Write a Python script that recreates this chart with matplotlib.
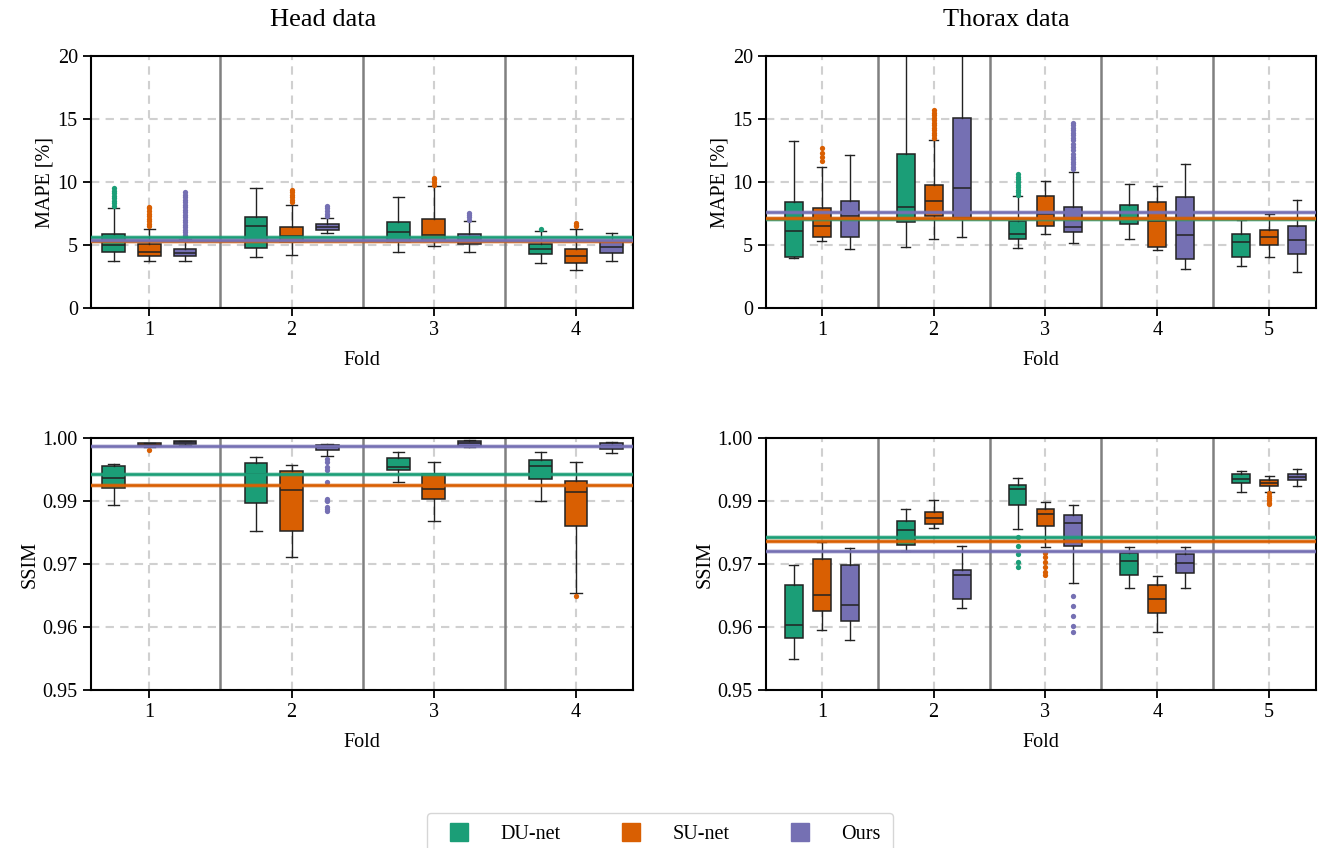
import numpy as np
import matplotlib
matplotlib.use("Agg")
import matplotlib.pyplot as plt
from matplotlib.lines import Line2D
from matplotlib.ticker import FormatStrFormatter

plt.rcParams['font.family'] = 'serif'
plt.rcParams['font.serif'] = ['Liberation Serif', 'DejaVu Serif']

models = ["DU-net", "SU-net", "Ours"]
colors = ["#1b9e77", "#d95f02", "#7570b3"]

# ---- Head MAPE [model][fold] ----
head_mape_q1 = [[4.45, 4.75, 5.25, 4.25], [4.1, 5.25, 5.3, 3.6], [4.1, 6.2, 5.05, 4.35]]
head_mape_med = [[4.97, 6.5, 6.06, 4.65], [4.45, 5.74, 5.78, 4.12], [4.4, 6.45, 5.4, 4.82]]
head_mape_q3 = [[5.9, 7.25, 6.85, 5.05], [5.05, 6.43, 7.1, 4.65], [4.68, 6.64, 5.84, 5.3]]
head_mape_lo = [[3.75, 4.02, 4.46, 3.56], [3.75, 4.2, 4.9, 3.05], [3.75, 5.95, 4.45, 3.75]]
head_mape_hi = [[7.9, 9.5, 8.84, 6.15], [6.3, 8.2, 9.72, 6.3], [5.47, 7.17, 6.88, 5.98]]
head_mape_fliers = [
    [[8.1, 8.3, 8.5, 8.7, 8.9, 9.1, 9.3, 9.5], [], [], [6.3]],
    [[6.5, 6.7, 6.9, 7.1, 7.3, 7.5, 7.7, 7.9, 8.0], [8.4, 8.6, 8.8, 9.0, 9.2, 9.4],
     [9.8, 10.0, 10.2, 10.35], [6.5, 6.6, 6.75]],
    [[5.6, 5.8, 6.0, 6.2, 6.4, 6.6, 6.8, 7.0, 7.2, 7.4, 7.6, 7.8, 8.0, 8.2, 8.4, 8.6, 8.8, 9.0, 9.2],
     [7.3, 7.5, 7.7, 7.9, 8.1], [7.0, 7.2, 7.4, 7.55], []],
]
head_mape_mean = [5.6, 5.28, 5.4]

# ---- Thorax MAPE ----
thorax_mape_q1 = [[4.06, 6.85, 5.47, 6.64, 4.06], [5.6, 7.28, 6.5, 4.82, 4.98], [5.6, 7.12, 6.07, 3.85, 4.25]]
thorax_mape_med = [[6.14, 8.02, 5.9, 7.12, 5.26], [6.52, 8.5, 7.44, 6.9, 5.6], [7.27, 9.5, 6.45, 5.78, 5.37]]
thorax_mape_q3 = [[8.4, 12.25, 6.9, 8.2, 5.84], [7.93, 9.75, 8.9, 8.43, 6.16], [8.47, 15.06, 8.05, 8.84, 6.52]]
thorax_mape_lo = [[3.98, 4.83, 4.75, 5.45, 3.37], [5.28, 5.46, 5.85, 4.58, 4.05], [4.67, 5.65, 5.15, 3.1, 2.82]]
thorax_mape_hi = [[13.28, 22.0, 8.92, 9.83, 6.96], [11.2, 13.33, 10.1, 9.67, 7.49], [12.18, 22.0, 10.82, 11.45, 8.58]]
thorax_mape_fliers = [
    [[], [], [9.0, 9.2, 9.4, 9.6, 9.8, 10.0, 10.2, 10.4, 10.6], [], []],
    [[11.7, 12.0, 12.3, 12.7], [13.5, 13.7, 13.9, 14.1, 14.3, 14.5, 14.7, 14.9, 15.1, 15.3, 15.5, 15.7], [], [], []],
    [[], [], [11.0, 11.2, 11.4, 11.6, 11.8, 12.0, 12.2, 12.5, 12.8, 13.0, 13.3, 13.5, 13.7, 13.9, 14.1, 14.3, 14.5, 14.7], [], []],
]
thorax_mape_mean = [7.04, 7.17, 7.6]

# ---- Head SSIM ----
head_ssim_q1 = [[0.9900, 0.98704, 0.99365, 0.9918], [0.99835, 0.98161, 0.98783, 0.98254], [0.99888, 0.99762, 0.99841, 0.99782]]
head_ssim_med = [[0.99213, 0.99292, 0.99425, 0.99444], [0.99868, 0.98968, 0.98988, 0.98929], [0.99921, 0.99815, 0.99894, 0.99848]]
head_ssim_q3 = [[0.99451, 0.99504, 0.99597, 0.99557], [0.99894, 0.99352, 0.99286, 0.99147], [0.9994, 0.99861, 0.99934, 0.99901]]
head_ssim_lo = [[0.98671, 0.98148, 0.99134, 0.98757], [0.99828, 0.97646, 0.9836, 0.96925], [0.99868, 0.9965, 0.99828, 0.99696]]
head_ssim_hi = [[0.99478, 0.99623, 0.99716, 0.99716], [0.99901, 0.99464, 0.99517, 0.99517], [0.99947, 0.99874, 0.9996, 0.99914]]
head_ssim_fliers = [
    [[], [], [], []],
    [[0.99762], [], [], [0.96858]],
    [[], [0.99583, 0.99517, 0.99431, 0.99365, 0.9912, 0.9879, 0.98743, 0.98638, 0.98591, 0.98545], [], []],
]
head_ssim_mean = [0.99286, 0.99074, 0.99841]

# ---- Thorax SSIM ----
thorax_ssim_q1 = [[0.96032, 0.97884, 0.98677, 0.97288, 0.99114], [0.96561, 0.98294, 0.98254, 0.96528, 0.99054], [0.96376, 0.96806, 0.97857, 0.97328, 0.99173]]
thorax_ssim_med = [[0.96283, 0.98181, 0.98988, 0.97553, 0.99187], [0.96878, 0.98413, 0.98486, 0.96799, 0.99107], [0.9668, 0.97282, 0.98313, 0.97513, 0.99233]]
thorax_ssim_q3 = [[0.9709, 0.98347, 0.99067, 0.97725, 0.99286], [0.97606, 0.98525, 0.98598, 0.97083, 0.9916], [0.97487, 0.97388, 0.98479, 0.97698, 0.99286]]
thorax_ssim_lo = [[0.95608, 0.97765, 0.98188, 0.97024, 0.98922], [0.9619, 0.98214, 0.97831, 0.96144, 0.98935], [0.95992, 0.96627, 0.97116, 0.97017, 0.99041]]
thorax_ssim_hi = [[0.9748, 0.98598, 0.992, 0.97844, 0.99352], [0.9793, 0.98776, 0.98737, 0.97255, 0.99246], [0.97817, 0.9785, 0.98671, 0.97837, 0.99378]]
thorax_ssim_fliers = [
    [[], [], [0.98029, 0.97851, 0.97698, 0.97533, 0.97434], [], []],
    [[], [], [0.97718, 0.97632, 0.97533, 0.97434, 0.97348, 0.97282], [],
     [0.98902, 0.98855, 0.98809, 0.98762, 0.98716, 0.9869]],
    [[], [], [0.96872, 0.96673, 0.96475, 0.96276, 0.96157], [], []],
]
thorax_ssim_mean = [0.98029, 0.9795, 0.97765]

offsets = [-0.25, 0.0, 0.25]


def draw_panel(ax, q1, med, q3, lo, hi, fliers, means, nfold, ylim, yticks, fmt, ylabel, xlim):
    for m in range(3):
        stats = []
        for f in range(nfold):
            stats.append(dict(q1=q1[m][f], med=med[m][f], q3=q3[m][f],
                              whislo=lo[m][f], whishi=hi[m][f], fliers=fliers[m][f]))
        pos = [f + 1 + offsets[m] for f in range(nfold)]
        ax.bxp(stats, positions=pos, widths=0.16, patch_artist=True, showfliers=True,
               boxprops=dict(facecolor=colors[m], edgecolor="#222222", lw=1.1),
               medianprops=dict(color="#222222", lw=1.1),
               whiskerprops=dict(color="#222222", lw=1.0),
               capprops=dict(color="#222222", lw=1.0),
               flierprops=dict(marker="o", markerfacecolor=colors[m],
                               markeredgecolor="none", markersize=3.8))
    for m in range(3):
        ax.axhline(means[m], color=colors[m], lw=3.4, alpha=0.3, zorder=4)
        ax.axhline(means[m], color=colors[m], lw=1.9, zorder=4)
    for s in range(1, nfold):
        ax.axvline(s + 0.5, color="#808080", lw=1.8, zorder=1)
    ax.set_xticks(range(1, nfold + 1))
    ax.set_xticklabels([str(i) for i in range(1, nfold + 1)])
    ax.set_xlim(*xlim)
    ax.set_ylim(*ylim)
    ax.set_yticks(yticks)
    ax.yaxis.set_major_formatter(FormatStrFormatter(fmt))
    ax.grid(True, color="#d0d0d0", ls=(0, (4, 3)), lw=1.5, zorder=0)
    ax.set_axisbelow(True)
    ax.set_xlabel("Fold", fontsize=14.5, labelpad=8)
    ax.set_ylabel(ylabel, fontsize=14.5, labelpad=2)
    ax.tick_params(labelsize=14.5, length=6, width=1.3, direction="out")
    for sp in ax.spines.values():
        sp.set_linewidth(1.5)


fig = plt.figure(figsize=(13.2, 8.48), dpi=100)
W, H = 1320.0, 848.0


def add_axes(x0, y0, x1, y1):
    return fig.add_axes([x0 / W, 1 - y1 / H, (x1 - x0) / W, (y1 - y0) / H])


ax_hm = add_axes(91, 56, 633, 308)
ax_tm = add_axes(766, 56, 1316, 308)
ax_hs = add_axes(91, 438, 633, 690)
ax_ts = add_axes(766, 438, 1316, 690)

draw_panel(ax_hm, head_mape_q1, head_mape_med, head_mape_q3, head_mape_lo, head_mape_hi,
           head_mape_fliers, head_mape_mean, 4, (0, 20), [0, 5, 10, 15, 20], "%d", "MAPE [%]", (0.59, 4.4))
draw_panel(ax_tm, thorax_mape_q1, thorax_mape_med, thorax_mape_q3, thorax_mape_lo, thorax_mape_hi,
           thorax_mape_fliers, thorax_mape_mean, 5, (0, 20), [0, 5, 10, 15, 20], "%d", "MAPE [%]", (0.5, 5.42))
draw_panel(ax_hs, head_ssim_q1, head_ssim_med, head_ssim_q3, head_ssim_lo, head_ssim_hi,
           head_ssim_fliers, head_ssim_mean, 4, (0.95, 1.0), np.linspace(0.95, 1.0, 5), "%.2f", "SSIM", (0.59, 4.4))
draw_panel(ax_ts, thorax_ssim_q1, thorax_ssim_med, thorax_ssim_q3, thorax_ssim_lo, thorax_ssim_hi,
           thorax_ssim_fliers, thorax_ssim_mean, 5, (0.95, 1.0), np.linspace(0.95, 1.0, 5), "%.2f", "SSIM", (0.5, 5.42))

# column titles, centred over each column including its labels
fig.text(323 / W, 1 - 20 / H, "Head data", fontsize=19, ha="center", va="center")
fig.text(1006 / W, 1 - 20 / H, "Thorax data", fontsize=19, ha="center", va="center")

handles = [Line2D([], [], marker="s", ls="none", markersize=13, markerfacecolor=c,
                  markeredgecolor=c) for c in colors]
fig.legend(handles, models, loc="upper center", bbox_to_anchor=(0.5, 1 - 803 / H), ncol=3,
           fontsize=14.5, handlelength=2.0, handletextpad=1.05, columnspacing=2.5,
           borderpad=0.6, frameon=True, edgecolor="#cccccc", fancybox=True)

fig.savefig("out.png", dpi=100)
